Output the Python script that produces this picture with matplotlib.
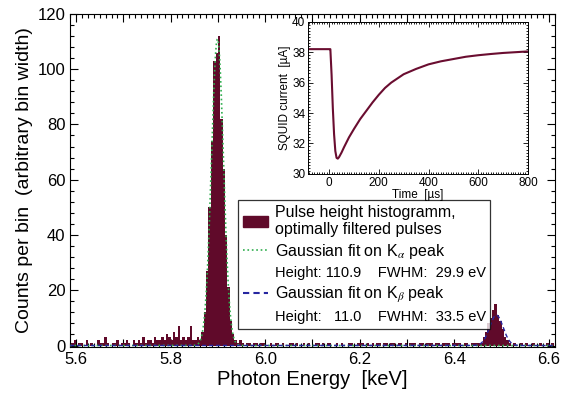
import numpy as np
import matplotlib
matplotlib.use('Agg')
from matplotlib import pyplot as plt
from matplotlib.ticker import MultipleLocator, AutoMinorLocator, FuncFormatter
from matplotlib.patches import Patch
from matplotlib.lines import Line2D

plt.rcParams['font.family'] = ['Liberation Sans', 'DejaVu Sans']
plt.rcParams['mathtext.fontset'] = 'stix'

# histogram, bins of 5 eV starting at 5.580 keV
bin_start = 5.580
bin_width = 0.005
counts = [
    0, 3, 1, 2, 0, 1, 1, 0, 2, 0,
    1, 0, 0, 2, 1, 1, 3, 1, 0, 1,
    1, 2, 0, 1, 1, 2, 1, 0, 2, 1,
    2, 1, 3, 1, 2, 2, 1, 3, 2, 2,
    3, 2, 4, 3, 2, 5, 3, 7, 2, 3,
    2, 3, 7, 2, 2, 3,
    2, 5, 12, 27, 50, 74, 103, 106, 112, 82, 64, 40, 21, 9, 4, 2,
    1, 2, 1, 0, 1, 1, 0, 1,
    1, 0, 1, 1, 0, 0, 1, 0, 1, 1, 0, 1, 0, 0, 1, 1, 0, 1, 0, 0,
    1, 0, 1, 0, 0, 1, 1, 0, 1, 0, 1, 1, 0, 0, 1, 0, 1, 0, 0, 1,
    1, 0, 0, 1, 1, 1, 0, 1, 0, 1, 0, 1, 1, 0, 1, 1, 0, 1, 1, 0,
    1, 1, 0, 1, 0, 1, 1, 1, 0, 1, 1, 0, 1, 1, 1, 0, 1, 1, 0, 1,
    1, 1, 0, 1, 1, 1, 1, 0, 1, 1, 0, 1, 1, 1, 1,
    1, 3, 5, 8, 10, 13, 15, 11, 9, 6, 3, 2, 1,
    0, 1, 0, 0, 1, 0, 1, 0, 0, 1, 0, 0, 1, 0, 0, 1, 0, 1,
]

# gaussian fit results (keV, counts, eV)
ka_center, ka_height, ka_fwhm = 5.899, 110.9, 29.9
kb_center, kb_height, kb_fwhm = 6.489, 11.0, 33.5

# inset: pulse
pulse_t = [-85, 0, 5, 10, 15, 20, 25, 30, 35, 40, 50, 60, 80, 100, 125, 150,
           175, 200, 225, 250, 300, 350, 400, 450, 500, 550, 600, 650, 700,
           750, 800]
pulse_i = [38.2, 38.2, 38.2, 36.5, 34.3, 32.6, 31.5, 31.05, 31.0, 31.1,
           31.4, 31.75, 32.4, 32.95, 33.6, 34.15, 34.7, 35.2, 35.65, 36.0,
           36.55, 36.9, 37.2, 37.4, 37.55, 37.7, 37.8, 37.88, 37.95, 38.0,
           38.05]

maroon = '#600a2a'


def gauss(x, c, h, fwhm):
    s = fwhm / 1000.0 / 2.3548
    return h * np.exp(-0.5 * ((x - c) / s) ** 2)


fig = plt.figure(figsize=(5.61, 3.96), dpi=100)
ax = fig.add_axes([0.125, 0.124, 0.864, 0.841])

edges = bin_start + bin_width * np.arange(len(counts))
ax.bar(edges, counts, width=bin_width, align='edge', color=maroon,
       linewidth=0, zorder=2)

xx = np.linspace(5.58, 6.62, 2000)
ax.plot(xx, gauss(xx, ka_center, ka_height, ka_fwhm), color='#2fae4e',
        linestyle=':', linewidth=1.2, zorder=3)
ax.plot(xx, gauss(xx, kb_center, kb_height, kb_fwhm), color='#2626a0',
        linestyle='--', linewidth=1.0, dashes=(3, 2), zorder=3)

ax.set_xlim(5.5873, 6.6127)
ax.set_ylim(-0.5, 120)
ax.xaxis.set_major_locator(MultipleLocator(0.1))
ax.xaxis.set_minor_locator(AutoMinorLocator(8))
ax.xaxis.set_major_formatter(FuncFormatter(
    lambda v, p: '%.1f' % v if abs(round(v * 10) % 2) < 0.5 else ''))
ax.yaxis.set_major_locator(MultipleLocator(20))
ax.yaxis.set_minor_locator(AutoMinorLocator(5))
ax.tick_params(which='both', direction='in', top=True, right=True,
               labelsize=12, width=0.8)
ax.tick_params(which='major', length=6)
ax.tick_params(which='minor', length=3)
ax.set_xlabel('Photon Energy  [keV]', fontsize=14.5, labelpad=2)
ax.set_ylabel('Counts per bin  (arbitrary bin width)', fontsize=14,
              labelpad=3)

handles = [Patch(color=maroon),
           Line2D([], [], color='#2fae4e', linestyle=':', linewidth=1.2),
           Line2D([], [], color='none'),
           Line2D([], [], color='#2626a0', linestyle='--', dashes=(3, 2)),
           Line2D([], [], color='none')]
labels = ['Pulse height histogramm,\noptimally filtered pulses',
          r'Gaussian fit on K$_\alpha$ peak',
          'Height: 110.9    FWHM:  29.9 eV',
          r'Gaussian fit on K$_\beta$ peak',
          'Height:   11.0    FWHM:  33.5 eV']
leg = ax.legend(handles, labels, loc='upper left',
                bbox_to_anchor=(0.346, 0.441), borderaxespad=0,
                fontsize=11.5, frameon=True, fancybox=False, handlelength=1.6,
                handletextpad=0.4, labelspacing=0.3, borderpad=0.3)
leg.get_frame().set_edgecolor('black')
leg.get_frame().set_linewidth(0.9)
for i in (2, 4):
    leg.get_texts()[i].set_fontsize(10.5)

# inset
ins = fig.add_axes([0.549, 0.561, 0.392, 0.384])
ins.plot(pulse_t, pulse_i, color='#6a0d30', linewidth=1.5)
ins.set_xlim(-85, 800)
ins.set_ylim(30, 40)
ins.xaxis.set_major_locator(MultipleLocator(200))
ins.xaxis.set_minor_locator(AutoMinorLocator(20))
ins.yaxis.set_major_locator(MultipleLocator(2))
ins.yaxis.set_minor_locator(AutoMinorLocator(10))
ins.tick_params(which='both', direction='in', top=True, right=True,
                labelsize=8.5, width=0.6, pad=2)
ins.tick_params(which='major', length=3.5)
ins.tick_params(which='minor', length=1.5)
for s in ins.spines.values():
    s.set_linewidth(0.7)
ins.set_xlabel('Time  [µs]', fontsize=8.5, labelpad=0)
ins.set_ylabel('SQUID current  [µA]', fontsize=8.5, labelpad=1)

fig.savefig('out.png', dpi=100)
